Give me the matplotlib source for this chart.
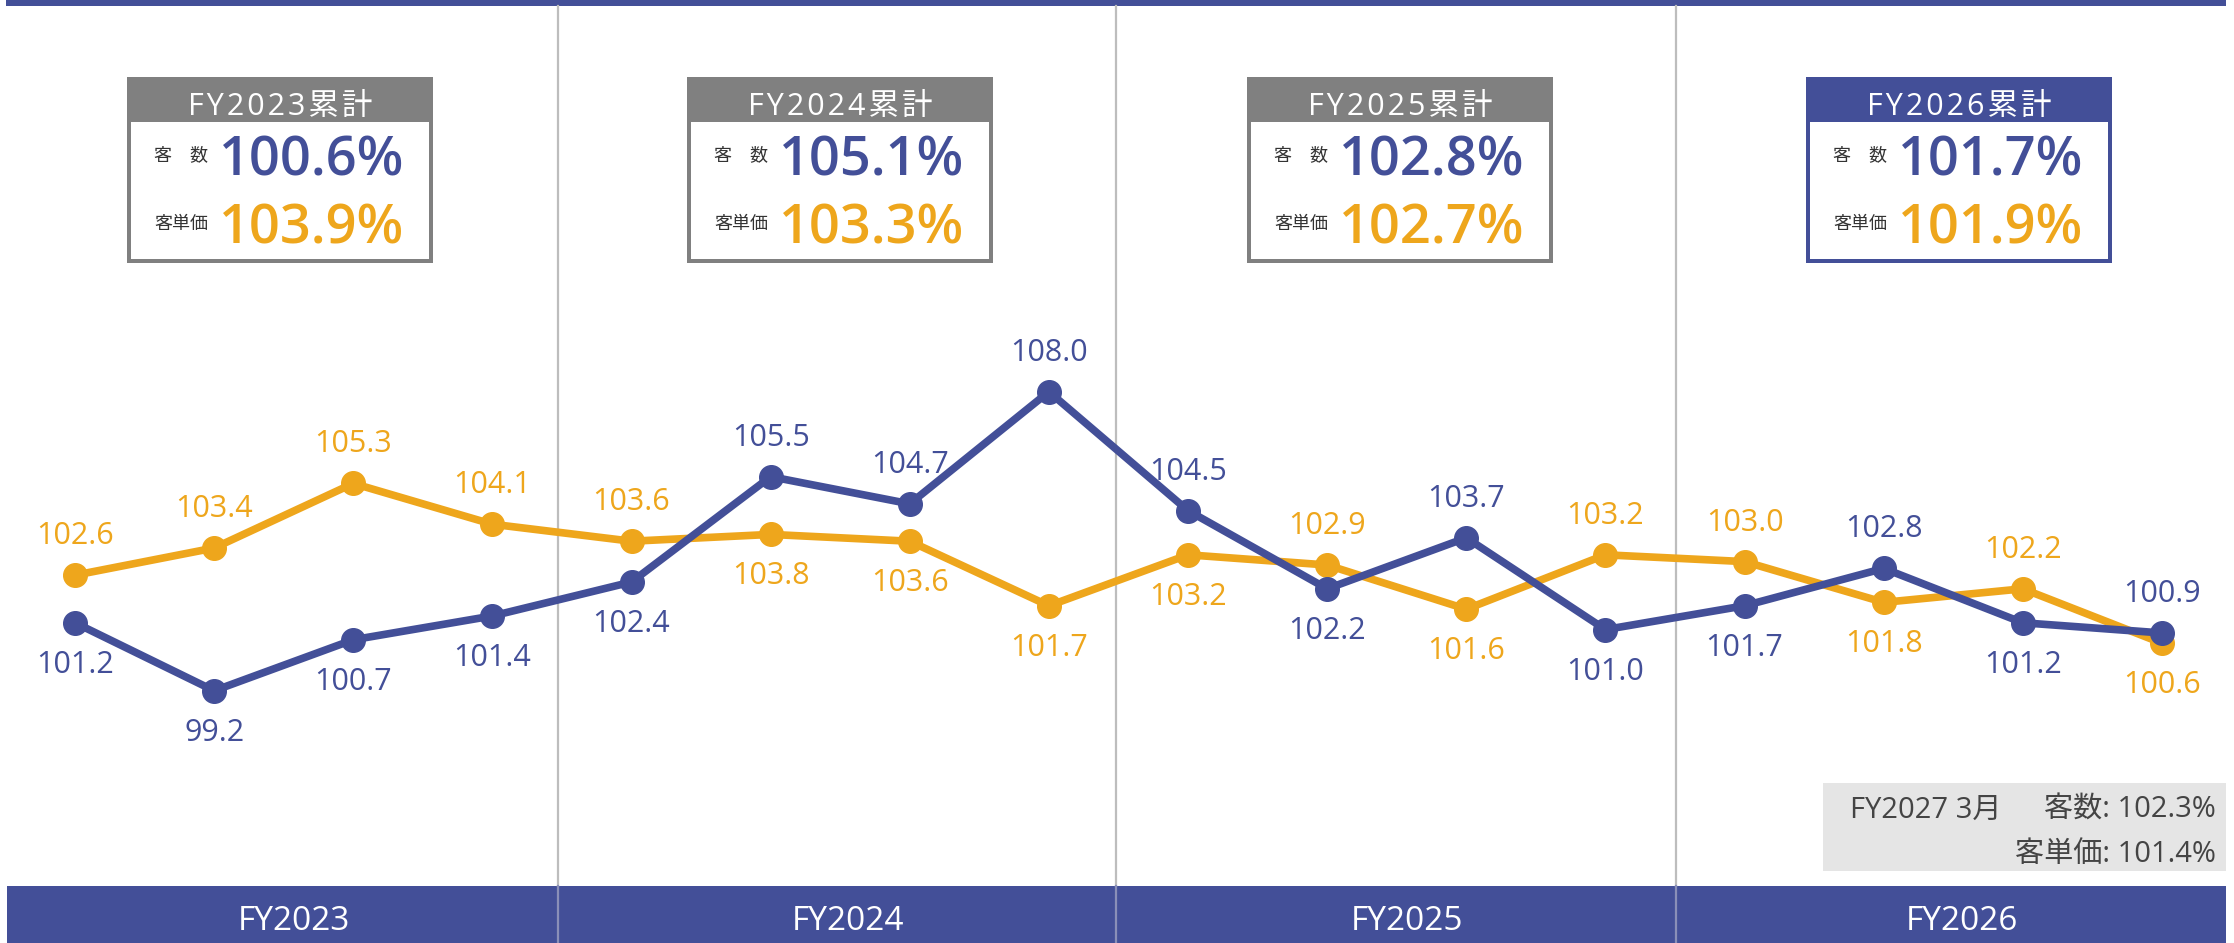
import matplotlib
matplotlib.use('Agg')
import matplotlib.pyplot as plt
from matplotlib.patches import Rectangle

plt.rcParams['font.family'] = ['Open Sans', 'Noto Sans CJK JP', 'DejaVu Sans']

# データ（四半期ごとの前年比 %）
customers = [101.2, 99.2, 100.7, 101.4, 102.4, 105.5, 104.7, 108.0,
             104.5, 102.2, 103.7, 101.0, 101.7, 102.8, 101.2, 100.9]
unit_price = [102.6, 103.4, 105.3, 104.1, 103.6, 103.8, 103.6, 101.7,
              103.2, 102.9, 101.6, 103.2, 103.0, 101.8, 102.2, 100.6]

# 年度ごとの累計
fy_names = ['FY2023', 'FY2024', 'FY2025', 'FY2026']
fy_customers = [100.6, 105.1, 102.8, 101.7]
fy_unit_price = [103.9, 103.3, 102.7, 101.9]

note_month = 'FY2027 3月'
note_customers = 102.3
note_unit_price = 101.4

# ラベルの上下 (1 = 上, -1 = 下)
cust_side = [-1, -1, -1, -1, -1, 1, 1, 1, 1, -1, 1, -1, -1, 1, -1, 1]
price_side = [1, 1, 1, 1, 1, -1, -1, -1, -1, 1, -1, 1, 1, -1, 1, -1]

BLUE = '#434F98'
ORANGE = '#EEA61C'
GRAY = '#808080'

W, H = 2234, 943
fig = plt.figure(figsize=(W / 100, H / 100), dpi=100)
ax = fig.add_axes([0, 0, 1, 1])
ax.axis('off')


def fx(x):
    return x / W


def fy(y):
    return 1 - y / H


def rect(x0, y0, x1, y1, color, z=0):
    ax.add_patch(Rectangle((fx(x0), fy(y1)), (x1 - x0) / W, (y1 - y0) / H,
                           transform=fig.transFigure, facecolor=color,
                           edgecolor='none', zorder=z))


def ftext(x, y, s, **kw):
    ax.text(fx(x), fy(y), s, transform=fig.transFigure, **kw)


# 上の帯と下の年度帯
rect(6, 0, 2226, 5.5, BLUE)
rect(7, 886, 2226, 943, BLUE)

# 年度の区切り線
for xd in [558, 1116, 1676]:
    ax.plot([fx(xd)] * 2, [fy(5.5), fy(886)], transform=fig.transFigure,
            color='#BDBDBD', lw=1.6, zorder=1)
    ax.plot([fx(xd)] * 2, [fy(886), fy(943)], transform=fig.transFigure,
            color='#8A8FB8', lw=1.6, zorder=1)

sec_edges = [7, 558, 1116, 1676, 2226]
for k, name in enumerate(fy_names):
    cx = (sec_edges[k] + sec_edges[k + 1]) / 2 + 11
    ftext(cx, 930, name, color='white', fontsize=24, ha='center', va='baseline')

# 累計ボックス
box_left = [127, 687, 1247, 1806]
for k, name in enumerate(fy_names):
    x0 = box_left[k]
    x1 = x0 + 306
    col = BLUE if k == 3 else GRAY
    rect(x0, 77, x1, 263, col, z=2)
    rect(x0 + 4, 122, x1 - 4, 259, 'white', z=2)
    header = '\u200a'.join(name + '累計')
    ftext(x0 + 153, 115, header, color='white', fontsize=22, ha='center',
          va='baseline', zorder=3)
    ftext(x0 + 54, 155, '客\u3000数', color='#333333', fontsize=13,
          ha='center', va='center', zorder=3)
    ftext(x0 + 54, 224, '客単価', color='#333333', fontsize=13,
          ha='center', va='center', zorder=3)
    ftext(x0 + 92, 176, f'{fy_customers[k]:.1f}%', color=BLUE, fontsize=39,
          fontweight='semibold', ha='left', va='baseline', zorder=3)
    ftext(x0 + 92, 244, f'{fy_unit_price[k]:.1f}%', color=ORANGE, fontsize=39,
          fontweight='semibold', ha='left', va='baseline', zorder=3)

# 右下の注記
rect(1823, 783, 2226, 871, '#E5E5E5', z=2)
ftext(1850, 818, note_month, color='#444444', fontsize=21, ha='left',
      va='baseline', zorder=3)
ftext(2216, 818, f'客数: {note_customers:.1f}%', color='#444444', fontsize=21,
      ha='right', va='baseline', zorder=3)
ftext(2216, 862, f'客単価: {note_unit_price:.1f}%', color='#444444', fontsize=21,
      ha='right', va='baseline', zorder=3)

# 折れ線
x = list(range(len(customers)))
ax.plot(x, unit_price, color=ORANGE, lw=5.5, marker='o', markersize=17,
        solid_capstyle='round', zorder=4)
ax.plot(x, customers, color=BLUE, lw=5.5, marker='o', markersize=17,
        solid_capstyle='round', zorder=5)

for i in x:
    for vals, sides, col in [(customers, cust_side, BLUE),
                             (unit_price, price_side, ORANGE)]:
        dy = 22.3 if sides[i] > 0 else -36
        ax.annotate(f'{vals[i]:.1f}', (i, vals[i]), xytext=(0, dy),
                    textcoords='offset points', ha='center', va='baseline',
                    color=col, fontsize=22, fontweight='medium', zorder=6)

ax.set_xlim(-0.539, 15.518)
ax.set_ylim(91.776, 119.527)

fig.savefig('out.png', dpi=100)
